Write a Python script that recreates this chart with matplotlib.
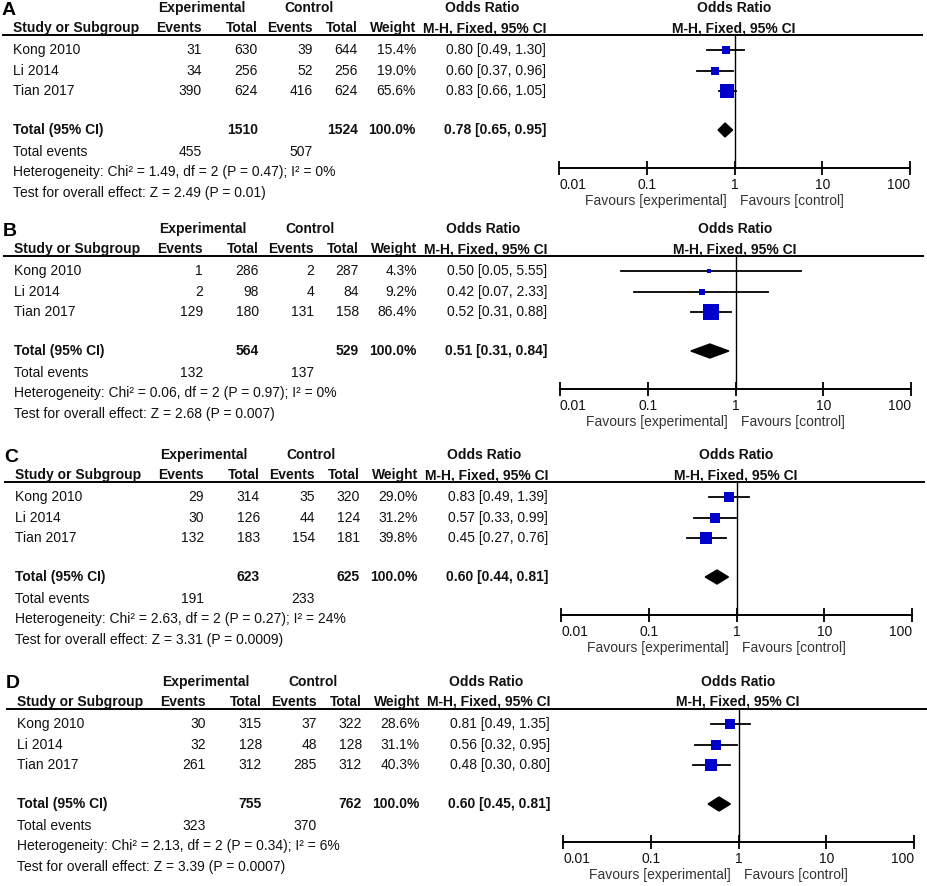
import matplotlib
matplotlib.use("Agg")
import matplotlib.pyplot as plt
import numpy as np

plt.rcParams['font.family'] = ['Liberation Sans', 'DejaVu Sans']

W, H = 927, 886

studies = ["Kong 2010", "Li 2014", "Tian 2017"]
panel_labels = ["A", "B", "C", "D"]

# panel A
exp_ev_A = [31, 34, 390]
exp_tot_A = [630, 256, 624]
ctl_ev_A = [39, 52, 416]
ctl_tot_A = [644, 256, 624]
weight_A = [15.4, 19.0, 65.6]
or_A = [0.80, 0.60, 0.83]
lo_A = [0.49, 0.37, 0.66]
hi_A = [1.30, 0.96, 1.05]
pooled_A = [0.78, 0.65, 0.95]
totals_A = [1510, 1524, 455, 507]
het_A = "Heterogeneity: Chi² = 1.49, df = 2 (P = 0.47); I² = 0%"
test_A = "Test for overall effect: Z = 2.49 (P = 0.01)"

# panel B
exp_ev_B = [1, 2, 129]
exp_tot_B = [286, 98, 180]
ctl_ev_B = [2, 4, 131]
ctl_tot_B = [287, 84, 158]
weight_B = [4.3, 9.2, 86.4]
or_B = [0.50, 0.42, 0.52]
lo_B = [0.05, 0.07, 0.31]
hi_B = [5.55, 2.33, 0.88]
pooled_B = [0.51, 0.31, 0.84]
totals_B = [564, 529, 132, 137]
het_B = "Heterogeneity: Chi² = 0.06, df = 2 (P = 0.97); I² = 0%"
test_B = "Test for overall effect: Z = 2.68 (P = 0.007)"

# panel C
exp_ev_C = [29, 30, 132]
exp_tot_C = [314, 126, 183]
ctl_ev_C = [35, 44, 154]
ctl_tot_C = [320, 124, 181]
weight_C = [29.0, 31.2, 39.8]
or_C = [0.83, 0.57, 0.45]
lo_C = [0.49, 0.33, 0.27]
hi_C = [1.39, 0.99, 0.76]
pooled_C = [0.60, 0.44, 0.81]
totals_C = [623, 625, 191, 233]
het_C = "Heterogeneity: Chi² = 2.63, df = 2 (P = 0.27); I² = 24%"
test_C = "Test for overall effect: Z = 3.31 (P = 0.0009)"

# panel D
exp_ev_D = [30, 32, 261]
exp_tot_D = [315, 128, 312]
ctl_ev_D = [37, 48, 285]
ctl_tot_D = [322, 128, 312]
weight_D = [28.6, 31.1, 40.3]
or_D = [0.81, 0.56, 0.48]
lo_D = [0.49, 0.32, 0.30]
hi_D = [1.35, 0.95, 0.80]
pooled_D = [0.60, 0.45, 0.81]
totals_D = [755, 762, 323, 370]
het_D = "Heterogeneity: Chi² = 2.13, df = 2 (P = 0.34); I² = 6%"
test_D = "Test for overall effect: Z = 3.39 (P = 0.0007)"

panels = [
    (exp_ev_A, exp_tot_A, ctl_ev_A, ctl_tot_A, weight_A, or_A, lo_A, hi_A, pooled_A, totals_A, het_A, test_A),
    (exp_ev_B, exp_tot_B, ctl_ev_B, ctl_tot_B, weight_B, or_B, lo_B, hi_B, pooled_B, totals_B, het_B, test_B),
    (exp_ev_C, exp_tot_C, ctl_ev_C, ctl_tot_C, weight_C, or_C, lo_C, hi_C, pooled_C, totals_C, het_C, test_C),
    (exp_ev_D, exp_tot_D, ctl_ev_D, ctl_tot_D, weight_D, or_D, lo_D, hi_D, pooled_D, totals_D, het_D, test_D),
]

# layout (pixels)
y_off = [0, 221, 447, 674]
x_off = [0, 1, 2, 4]
row_y = [50, 71, 91]
FS = 10
blue = "#0000cc"
txt = "#111111"

fig = plt.figure(figsize=(W / 100, H / 100), dpi=100)
bg = fig.add_axes([0, 0, 1, 1])
bg.set_xlim(0, W)
bg.set_ylim(H, 0)
bg.axis("off")

for p, (ee, et, ce, ct, wt, orv, lo, hi, pooled, tots, het, test) in enumerate(panels):
    oy = y_off[p]
    ox = x_off[p]

    def T(x, y, s, ha="left", bold=False, size=FS, color=txt):
        bg.text(x + ox, y + oy, s, ha=ha, va="center", fontsize=size,
                fontweight="bold" if bold else "normal", color=color)

    T(2, 10, panel_labels[p], bold=True, size=14, color="black")
    # headers
    T(202, 8, "Experimental", ha="center", bold=True)
    T(309, 8, "Control", ha="center", bold=True)
    T(482, 8, "Odds Ratio", ha="center", bold=True)
    T(734, 8, "Odds Ratio", ha="center", bold=True)
    T(13, 28, "Study or Subgroup", bold=True)
    T(202, 28, "Events", ha="right", bold=True)
    T(258, 28, "Total", ha="right", bold=True)
    T(313, 28, "Events", ha="right", bold=True)
    T(358, 28, "Total", ha="right", bold=True)
    T(416, 28, "Weight", ha="right", bold=True)
    T(546, 28, "M-H, Fixed, 95% CI", ha="right", bold=True)
    T(734, 28, "M-H, Fixed, 95% CI", ha="center", bold=True)
    bg.plot([3 + ox, 922 + ox], [35 + oy, 35 + oy], color="black", lw=1.4)

    for i, s in enumerate(studies):
        y = row_y[i]
        T(13, y, s)
        T(202, y, str(ee[i]), ha="right")
        T(258, y, str(et[i]), ha="right")
        T(313, y, str(ce[i]), ha="right")
        T(358, y, str(ct[i]), ha="right")
        T(416, y, f"{wt[i]:.1f}%", ha="right")
        T(546, y, f"{orv[i]:.2f} [{lo[i]:.2f}, {hi[i]:.2f}]", ha="right")

    T(13, 130, "Total (95% CI)", bold=True)
    T(258, 130, str(tots[0]), ha="right", bold=True)
    T(358, 130, str(tots[1]), ha="right", bold=True)
    T(416, 130, "100.0%", ha="right", bold=True)
    T(546, 130, f"{pooled[0]:.2f} [{pooled[1]:.2f}, {pooled[2]:.2f}]", ha="right", bold=True)
    T(13, 152, "Total events")
    T(202, 152, str(tots[2]), ha="right")
    T(313, 152, str(tots[3]), ha="right")
    T(13, 172, het)
    T(13, 193, test)

    T(727, 201, "Favours [experimental]", ha="right", color="#333333")
    T(740, 201, "Favours [control]", ha="left", color="#333333")

    # forest axes
    left, right = 559 + ox, 910 + ox
    top, bottom = 35 + oy, 168 + oy
    ax = fig.add_axes([left / W, 1 - bottom / H, (right - left) / W, (bottom - top) / H])
    ax.set_xscale("log")
    ax.set_xlim(0.01, 100)
    ax.set_ylim(168, 35)
    ax.patch.set_alpha(0)
    for sp in ["top", "left", "right"]:
        ax.spines[sp].set_visible(False)
    ax.spines["bottom"].set_linewidth(1.4)
    ax.set_xticks([0.01, 0.1, 1, 10, 100])
    labs = ax.set_xticklabels(["0.01", "0.1", "1", "10", "100"], fontsize=FS, color=txt)
    labs[0].set_horizontalalignment("left")
    labs[-1].set_horizontalalignment("right")
    ax.xaxis.set_minor_locator(matplotlib.ticker.NullLocator())
    ax.tick_params(axis="x", direction="inout", length=10, width=1.3, pad=2)
    ax.set_yticks([])
    ax.axvline(1, color="black", lw=1.0)

    for i in range(3):
        y = row_y[i]
        ax.plot([lo[i], hi[i]], [y, y], color="black", lw=1.3, clip_on=False)
        side = 1.8 * np.sqrt(wt[i]) * 0.72
        ax.plot(orv[i], y, marker="s", ms=side, color=blue, mec=blue, mew=0, clip_on=False)

    dh = 7
    ax.fill([pooled[1], pooled[0], pooled[2], pooled[0]],
            [130, 130 - dh, 130, 130 + dh], color="black", clip_on=False)

fig.savefig("out.png", dpi=100)
